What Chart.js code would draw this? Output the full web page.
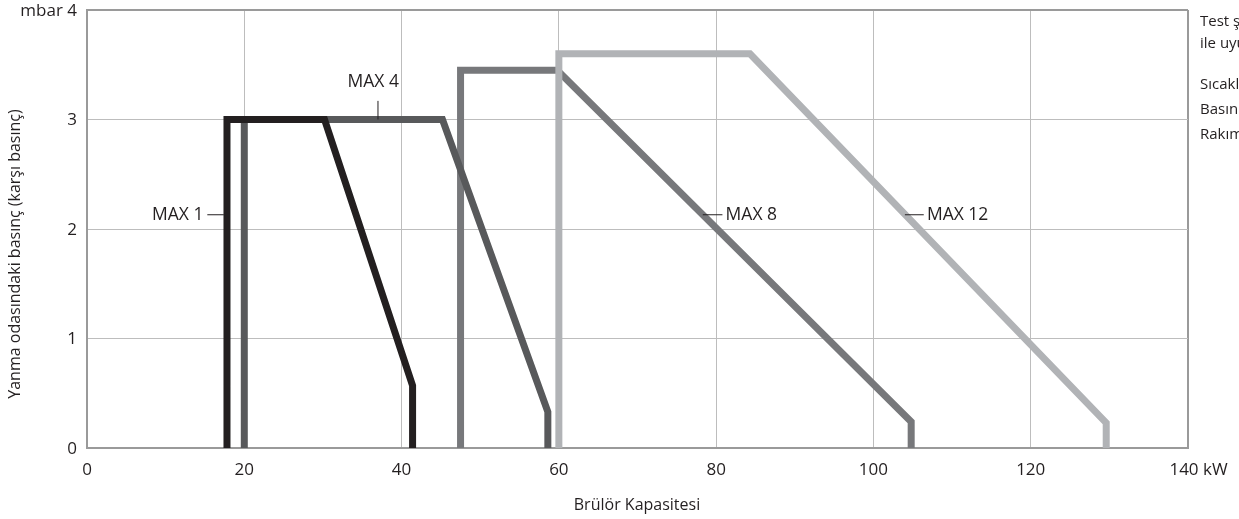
<!DOCTYPE html>
<html><head><meta charset="utf-8">
<script src="https://cdn.jsdelivr.net/npm/chart.js@4/dist/chart.umd.min.js"></script>
<style>html,body{margin:0;padding:0;background:#fff}#wrap{width:1239px;height:519px;position:relative}</style>
</head><body><div id="wrap"><canvas id="c" width="1239" height="519"></canvas></div>
<script>
const xTicks = [0, 20, 40, 60, 80, 100, 120, 140];
const yTicks = [0, 1, 2, 3, 4];
const seriesNames = ['MAX 1', 'MAX 4', 'MAX 8', 'MAX 12'];
const max1X = [17.8, 17.8, 30.2, 41.4, 41.4];
const max1Y = [0, 3.0, 3.0, 0.57, 0];
const max4X = [20.0, 20.0, 45.2, 58.6, 58.6];
const max4Y = [0, 3.0, 3.0, 0.33, 0];
const max8X = [47.5, 47.5, 59.8, 104.8, 104.8];
const max8Y = [0, 3.45, 3.45, 0.24, 0];
const max12X = [60.0, 60.0, 84.3, 129.6, 129.6];
const max12Y = [0, 3.6, 3.6, 0.23, 0];
const seriesColors = ['#231f20', '#58595b', '#77787b', '#b1b3b6'];
const drawOrder = [0, 1, 3, 2];
const labelText = ['MAX 1', 'MAX 4', 'MAX 8', 'MAX 12'];
const noteLines = ['Test şartları', 'ile uyumludur', 'Sıcaklık', 'Basınç', 'Rakım'];

const FONT = '"Open Sans", sans-serif';
const TXT = '#231f20';
const pts = (xs, ys) => xs.map((x, i) => ({x, y: ys[i]}));
const allX = [max1X, max4X, max8X, max12X];
const allY = [max1Y, max4Y, max8Y, max12Y];

const datasets = seriesNames.map((n, i) => ({
  label: n,
  data: pts(allX[i], allY[i]),
  borderColor: seriesColors[i],
  backgroundColor: seriesColors[i],
  borderWidth: 7,
  pointRadius: 0,
  tension: 0,
  fill: false,
  borderJoinStyle: 'miter',
  borderCapStyle: 'butt',
  order: drawOrder[i],
  showLine: true
}));

const overlay = {
  id: 'overlay',
  afterDraw(chart) {
    const ctx = chart.ctx;
    const xs = chart.scales.x, ys = chart.scales.y;
    ctx.save();
    ctx.fillStyle = TXT;
    ctx.font = '17px ' + FONT;
    ctx.textAlign = 'right';
    ctx.textBaseline = 'middle';
    yTicks.forEach(v => {
      const t = v === 4 ? 'mbar 4' : String(v);
      ctx.fillText(t, 77, ys.getPixelForValue(v) + 1);
    });
    xTicks.forEach(v => {
      const px = xs.getPixelForValue(v);
      if (v === 140) {
        const w = ctx.measureText('140').width;
        ctx.textAlign = 'left';
        ctx.fillText('140 kW', px - w / 2 - 4, 470);
      } else {
        ctx.textAlign = 'center';
        ctx.fillText(String(v), px, 470);
      }
    });
    ctx.font = '16px ' + FONT;
    ctx.textAlign = 'center';
    ctx.fillText('Brülör Kapasitesi', 637, 505);
    ctx.save();
    ctx.translate(15, 254);
    ctx.rotate(-Math.PI / 2);
    ctx.fillText('Yanma odasındaki basınç (karşı basınç)', 0, 0);
    ctx.restore();

    ctx.font = '17.5px ' + FONT;
    ctx.strokeStyle = TXT;
    ctx.lineWidth = 1;
    const line = (x1, y1, x2, y2) => {
      ctx.beginPath();
      ctx.moveTo(xs.getPixelForValue(x1), ys.getPixelForValue(y1));
      ctx.lineTo(xs.getPixelForValue(x2), ys.getPixelForValue(y2));
      ctx.stroke();
    };
    ctx.textBaseline = 'middle';
    line(15.3, 2.13, 17.4, 2.13);
    ctx.textAlign = 'right';
    ctx.fillText(labelText[0], xs.getPixelForValue(14.8), ys.getPixelForValue(2.13));
    line(37.0, 3.0, 37.0, 3.17);
    ctx.textAlign = 'center';
    ctx.fillText(labelText[1], xs.getPixelForValue(36.4), ys.getPixelForValue(3.34));
    line(78.3, 2.13, 80.8, 2.13);
    ctx.textAlign = 'left';
    ctx.fillText(labelText[2], xs.getPixelForValue(81.2), ys.getPixelForValue(2.13));
    line(104.0, 2.13, 106.4, 2.13);
    ctx.fillText(labelText[3], xs.getPixelForValue(106.8), ys.getPixelForValue(2.13));

    ctx.font = '15px ' + FONT;
    ctx.textAlign = 'left';
    const noteY = [22, 44, 85, 110, 135];
    noteLines.forEach((t, i) => ctx.fillText(t, 1200, noteY[i]));
    ctx.restore();
  }
};

new Chart(document.getElementById('c'), {
  type: 'line',
  data: { datasets },
  options: {
    responsive: false,
    animation: false,
    devicePixelRatio: 1,
    layout: { padding: { left: 87, top: 10, right: 51, bottom: 71 } },
    plugins: { legend: { display: false }, tooltip: { enabled: false } },
    scales: {
      x: {
        type: 'linear', min: 0, max: 140,
        afterBuildTicks: s => { s.ticks = xTicks.map(v => ({value: v})); },
        ticks: { display: false },
        grid: {
          drawTicks: false,
          color: c => (c.tick && c.tick.value === 140) ? '#9a9a9a' : '#bdbdbd',
          lineWidth: c => (c.tick && c.tick.value === 140) ? 2 : 1
        },
        border: { color: '#9a9a9a', width: 2 }
      },
      y: {
        type: 'linear', min: 0, max: 4,
        afterBuildTicks: s => { s.ticks = yTicks.map(v => ({value: v})); },
        ticks: { display: false },
        grid: {
          drawTicks: false,
          color: c => (c.tick && c.tick.value === 4) ? '#9a9a9a' : '#bdbdbd',
          lineWidth: c => (c.tick && c.tick.value === 4) ? 2 : 1
        },
        border: { color: '#9a9a9a', width: 2 }
      }
    }
  },
  plugins: [overlay]
});
</script></body></html>
